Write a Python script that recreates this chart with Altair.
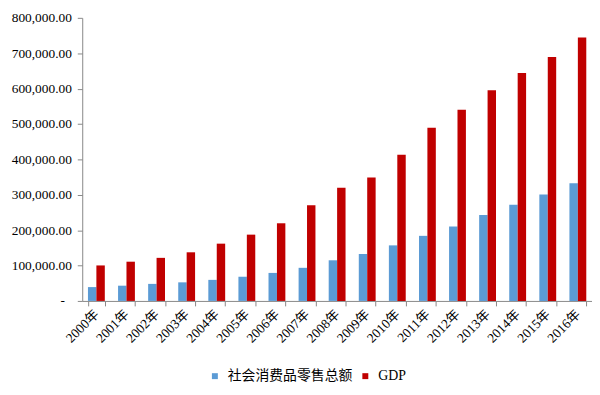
import altair as alt
import pandas as pd

years = [f"{y}年" for y in range(2000, 2017)]
retail = [39106, 43055, 48136, 52516, 59501, 68353, 79145, 93572, 114830,
          132678, 156998, 183919, 210307, 242843, 271896, 300931, 332316]
gdp = [100280, 110863, 121717, 137422, 161840, 187319, 219438, 270232, 319516,
       349081, 413030, 489301, 540367, 595244, 643974, 689052, 744127]
series = ["社会消费品零售总额", "GDP"]
colors = ["#5B9BD5", "#C00000"]

rows = []
for i, y in enumerate(years):
    rows.append({"year": y, "series": series[0], "value": retail[i]})
    rows.append({"year": y, "series": series[1], "value": gdp[i]})
df = pd.DataFrame(rows)

font = "Liberation Serif, Times New Roman, Noto Sans CJK SC"

chart = alt.Chart(df).mark_bar().encode(
    x=alt.X("year:N", sort=years, title=None,
            scale=alt.Scale(paddingInner=0.44, paddingOuter=0.19),
            axis=alt.Axis(labelAngle=-45, labelAlign="right", labelBaseline="middle",
                          tickBand="extent", labelFont=font, labelFontSize=13.5,
                          labelColor="#000", domainColor="#888", tickColor="#888",
                          tickSize=5, labelPadding=6)),
    xOffset=alt.XOffset("series:N", sort=series, scale=alt.Scale(paddingInner=0, paddingOuter=0)),
    y=alt.Y("value:Q", title=None,
            scale=alt.Scale(domain=[0, 800000]),
            axis=alt.Axis(values=list(range(0, 800001, 100000)), grid=False,
                          labelExpr="datum.value == 0 ? '-' : format(datum.value, ',.2f')",
                          labelPadding={"condition": {"test": "datum.value == 0", "value": 13}, "value": 6},
                          labelFont=font, labelFontSize=13.5, labelColor="#000",
                          domainColor="#888", tickColor="#888", tickSize=5)),
    color=alt.Color("series:N", sort=series,
                    scale=alt.Scale(domain=series, range=colors),
                    legend=alt.Legend(orient="none", legendX=127, legendY=355,
                                      direction="horizontal", title=None,
                                      symbolType="square", symbolSize=36,
                                      labelFont=font, labelFontSize=14, labelColor="#000",
                                      labelOffset=6, columnPadding=6)),
).properties(width=515, height=286, padding={"left": 3, "top": 1, "right": 0, "bottom": 0}
).configure_view(stroke=None)

chart.save("out.html", embed_options={"renderer": "svg", "actions": False})
